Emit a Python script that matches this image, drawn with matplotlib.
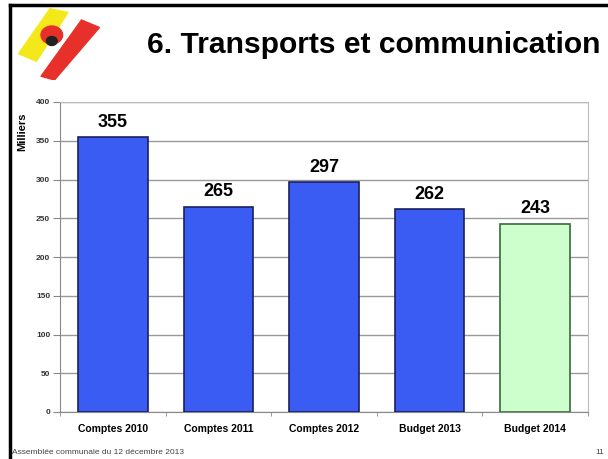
import matplotlib.pyplot as plt
import matplotlib.patches as mpatches
from matplotlib.lines import Line2D

plt.rcParams['font.family'] = ['Liberation Sans', 'DejaVu Sans']

categories = ['Comptes 2010', 'Comptes 2011', 'Comptes 2012', 'Budget 2013', 'Budget 2014']
values = [355, 265, 297, 262, 243]
colors = ['#3A5CF2', '#3A5CF2', '#3A5CF2', '#3A5CF2', '#CCFFCC']
edges = ['#1A2060', '#1A2060', '#1A2060', '#1A2060', '#3A6A3A']
yticks = [0, 50, 100, 150, 200, 250, 300, 350, 400]

W, H = 608, 459
fig = plt.figure(figsize=(W / 100, H / 100), dpi=100)

# slide frame (black lines left and top)
fig.add_artist(Line2D([10 / W, 10 / W], [0, 1 - 5 / H], color='black', lw=2.5))
fig.add_artist(Line2D([10 / W, 1], [1 - 5 / H, 1 - 5 / H], color='black', lw=2.5))

# logo stand-in: yellow and red brush strokes
logo = fig.add_axes([14 / W, 1 - 80 / H, 90 / W, 75 / H])
logo.set_xlim(0, 1)
logo.set_ylim(0, 1)
logo.axis('off')
logo.add_patch(mpatches.Polygon([[0.05, 0.35], [0.4, 0.95], [0.6, 0.9], [0.25, 0.25]], color='#F5E81A'))
logo.add_patch(mpatches.Polygon([[0.3, 0.05], [0.75, 0.8], [0.95, 0.7], [0.45, 0.0]], color='#E8302A'))
logo.add_patch(mpatches.Circle((0.42, 0.6), 0.12, color='#E8302A'))
logo.add_patch(mpatches.Circle((0.42, 0.52), 0.06, color='#222222'))

fig.text(147 / W, 1 - 45 / H, '6. Transports et communication', fontsize=21.6,
         fontweight='bold', va='center', ha='left')

ax = fig.add_axes([60 / W, 1 - 412 / H, 528 / W, 310 / H])
x = range(len(categories))
ax.bar(x, values, width=0.66, color=colors, edgecolor=edges, linewidth=1.2, zorder=3)
for xi, v in zip(x, values):
    ax.text(xi, v + 8, str(v), ha='center', va='bottom', fontsize=13, fontweight='bold')

ax.set_xlim(-0.5, len(categories) - 0.5)
ax.set_ylim(0, 400)
ax.set_yticks(yticks)
ax.set_yticklabels([str(t) for t in yticks], fontsize=6, fontweight='bold', color='#333333')
ax.yaxis.grid(True, color='#999999', lw=1, zorder=0)
ax.tick_params(axis='y', length=5, color='#888888', pad=2)

ax.set_xticks(list(x))
ax.set_xticklabels(categories, fontsize=7.5, fontweight='bold')
ax.tick_params(axis='x', length=0, pad=9)
ax.set_xticks([i + 0.5 for i in range(-1, len(categories))], minor=True)
ax.tick_params(axis='x', which='minor', length=3, color='#888888')

for side in ['left', 'bottom']:
    ax.spines[side].set_color('#888888')
for side in ['right', 'top']:
    ax.spines[side].set_color('#BBBBBB')

fig.text(22 / W, 1 - 132 / H, 'Milliers', rotation=90, fontsize=8, fontweight='bold',
         ha='center', va='center')

fig.text(12 / W, 1 - 452 / H, 'Assemblée communale du 12 décembre 2013', fontsize=6,
         color='#444444', ha='left', va='center')
fig.text(604 / W, 1 - 452 / H, '11', fontsize=6, color='#444444', ha='right', va='center')

fig.savefig('out.png', dpi=100)
